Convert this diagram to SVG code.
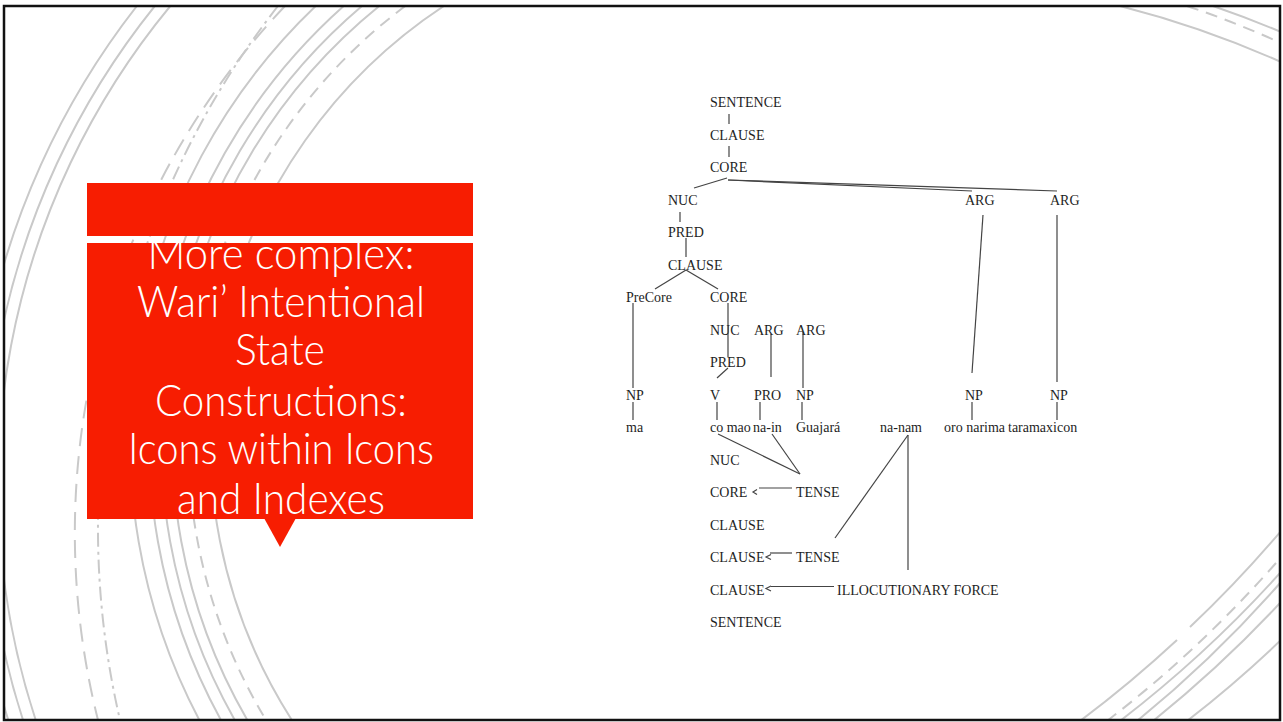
<svg xmlns="http://www.w3.org/2000/svg" width="1283" height="722" viewBox="0 0 1283 722">
<defs>
<style>
.arc{fill:none;stroke:#c9c9c9;stroke-width:2}
.dash{stroke-dasharray:12 8}
.dashl{stroke-dasharray:18 10}
.dd{stroke-dasharray:14 5 3 5}
.t{font-family:"Liberation Serif","Times New Roman",serif;font-size:14px;fill:#1e1e1e}
.ln{fill:none;stroke:#444;stroke-width:1.2}
.title{font-family:Lato,"Open Sans",sans-serif;font-weight:300;font-size:43px;fill:#fff;text-anchor:middle}
.red{fill:#F71D01}
</style>
<clipPath id="frameClip"><rect x="4" y="6" width="1276" height="714"/></clipPath>
<clipPath id="boxClip"><rect x="87" y="243" width="386" height="276"/></clipPath>
</defs>
<rect x="0" y="0" width="1283" height="722" fill="#fff"/>
<g id="background-arcs" clip-path="url(#frameClip)">
<path class="arc" d="M136.9,6 A778,778 0 0 0 8.3,720"/>
<path class="arc" d="M154.8,6 A764,764 0 0 0 23,720"/>
<path class="arc" d="M170.3,6 A752,752 0 0 0 35.7,720"/>
<path class="arc dd" d="M278,6 A847,847 0 0 0 120,720"/>
<path class="arc dashl" d="M285,6 A766,766 0 0 0 98,720"/>
<path class="arc" d="M315.7,6 A600,600 0 0 0 199.3,720"/>
<path class="arc" d="M343.7,6 A581,581 0 0 0 220.9,720"/>
<path class="arc" d="M362,6 A569,569 0 0 0 234.7,720"/>
<path class="arc" d="M379.3,6 A558,558 0 0 0 247.3,720"/>
<path class="arc dash" d="M405.3,6 A542,542 0 0 0 266,720"/>
<path class="arc" d="M443.9,6 A520,520 0 0 0 291.8,720"/>
<path class="arc" d="M1120,6 A1000,1000 0 0 1 1281,62"/>
<path class="arc dash" d="M1187,6 A1000,1000 0 0 1 1281,43"/>
<path class="arc" d="M1213,6 A1000,1000 0 0 1 1281,32"/>
<path class="arc" d="M1281,531 A1200,1200 0 0 1 1190,627"/>
<path class="arc" d="M1177,640 A1200,1200 0 0 1 1080,721"/>
<path class="arc dash" d="M1276,563 A1200,1200 0 0 1 1107,721"/>
<path class="arc" d="M1281,572 A1200,1200 0 0 1 1120,721"/>
<path class="arc" d="M1281,582 A1200,1200 0 0 1 1137,721"/>
<path class="arc" d="M1281,602 A1200,1200 0 0 1 1153,721"/>
<path class="arc" d="M1281,640 A1200,1200 0 0 1 1187,721"/>
</g>
<rect id="frame" x="4" y="6" width="1276" height="714" fill="none" stroke="#111" stroke-width="2.5"/>
<g id="title-box">
<rect class="red" x="87" y="183" width="386" height="53"/>
<rect class="red" x="87" y="243" width="386" height="276"/>
<polygon class="red" points="264,518 296,518 280,547"/>
<g clip-path="url(#boxClip)">
<text class="title" x="281" y="269" textLength="267" lengthAdjust="spacingAndGlyphs">More complex:</text>
<text class="title" x="281" y="317" textLength="288" lengthAdjust="spacingAndGlyphs">Wari’ Intentional</text>
<text class="title" x="280" y="365" textLength="90" lengthAdjust="spacingAndGlyphs">State</text>
<text class="title" x="281" y="416" textLength="252" lengthAdjust="spacingAndGlyphs">Constructions:</text>
<text class="title" x="281" y="464" textLength="306" lengthAdjust="spacingAndGlyphs">Icons within Icons</text>
<text class="title" x="281" y="514" textLength="208" lengthAdjust="spacingAndGlyphs">and Indexes</text>
</g>
</g>
<g id="connectors">
<line class="ln" x1="729" y1="114" x2="729" y2="124"/>
<line class="ln" x1="729" y1="146" x2="729" y2="157"/>
<line class="ln" x1="727" y1="178" x2="694" y2="188"/>
<line class="ln" x1="728" y1="180" x2="972" y2="191"/>
<line class="ln" x1="728" y1="180" x2="1057" y2="191"/>
<line class="ln" x1="680" y1="212" x2="680" y2="222"/>
<line class="ln" x1="686" y1="238" x2="686" y2="257"/>
<line class="ln" x1="686" y1="270" x2="655" y2="289"/>
<line class="ln" x1="686" y1="270" x2="718" y2="289"/>
<line class="ln" x1="633" y1="303" x2="633" y2="388"/>
<line class="ln" x1="728" y1="303" x2="728" y2="357"/>
<line class="ln" x1="728" y1="368" x2="717" y2="378"/>
<line class="ln" x1="771" y1="334" x2="771" y2="377"/>
<line class="ln" x1="803" y1="332" x2="803" y2="388"/>
<line class="ln" x1="983" y1="215" x2="972" y2="373"/>
<line class="ln" x1="1057" y1="215" x2="1057" y2="382"/>
<line class="ln" x1="633" y1="402" x2="633" y2="420"/>
<line class="ln" x1="717" y1="402" x2="717" y2="420"/>
<line class="ln" x1="760" y1="402" x2="760" y2="420"/>
<line class="ln" x1="802" y1="402" x2="802" y2="420"/>
<line class="ln" x1="972" y1="402" x2="972" y2="420"/>
<line class="ln" x1="1057" y1="402" x2="1057" y2="420"/>
<line class="ln" x1="718" y1="434" x2="800" y2="474"/>
<line class="ln" x1="772" y1="434" x2="800" y2="474"/>
<line class="ln" x1="759" y1="488" x2="792" y2="488"/>
<path class="ln" d="M757,489.5 L753,492 L757,494.5"/>
<line class="ln" x1="835" y1="538" x2="908" y2="435"/>
<line class="ln" x1="770" y1="553" x2="792" y2="553"/>
<path class="ln" d="M771,554.5 L766,557 L771,559.5"/>
<line class="ln" x1="908" y1="435" x2="908" y2="570"/>
<line class="ln" x1="771" y1="586.5" x2="834" y2="586.5"/>
<path class="ln" d="M771,586 L766,588.5 L771,591"/>
</g>
<g id="n-sentence-top"><text class="t" x="710" y="107">SENTENCE</text></g>
<g id="n-clause-1"><text class="t" x="710" y="139.5">CLAUSE</text></g>
<g id="n-core-1"><text class="t" x="710" y="172">CORE</text></g>
<g id="n-nuc-1"><text class="t" x="668" y="204.5">NUC</text></g>
<g id="n-arg-1"><text class="t" x="965" y="204.5">ARG</text></g>
<g id="n-arg-2"><text class="t" x="1050" y="204.5">ARG</text></g>
<g id="n-pred-1"><text class="t" x="668" y="237">PRED</text></g>
<g id="n-clause-2"><text class="t" x="668" y="269.5">CLAUSE</text></g>
<g id="n-precore"><text class="t" x="626" y="302">PreCore</text></g>
<g id="n-core-2"><text class="t" x="710" y="302">CORE</text></g>
<g id="n-nuc-2"><text class="t" x="710" y="334.5">NUC</text></g>
<g id="n-arg-3"><text class="t" x="754" y="334.5">ARG</text></g>
<g id="n-arg-4"><text class="t" x="796" y="334.5">ARG</text></g>
<g id="n-pred-2"><text class="t" x="710" y="367">PRED</text></g>
<g id="n-np-1"><text class="t" x="626" y="399.5">NP</text></g>
<g id="n-v"><text class="t" x="710" y="399.5">V</text></g>
<g id="n-pro"><text class="t" x="754" y="399.5">PRO</text></g>
<g id="n-np-2"><text class="t" x="796" y="399.5">NP</text></g>
<g id="n-np-3"><text class="t" x="965" y="399.5">NP</text></g>
<g id="n-np-4"><text class="t" x="1050" y="399.5">NP</text></g>
<g id="w-ma"><text class="t" x="626" y="432">ma</text></g>
<g id="w-comao"><text class="t" x="710" y="432">co mao</text></g>
<g id="w-nain"><text class="t" x="753" y="432">na-in</text></g>
<g id="w-guajara"><text class="t" x="796" y="432">Guajará</text></g>
<g id="w-nanam"><text class="t" x="880" y="432">na-nam</text></g>
<g id="w-oronarima"><text class="t" x="944" y="432">oro narima</text></g>
<g id="w-taramaxicon"><text class="t" x="1008" y="432">taramaxicon</text></g>
<g id="o-nuc"><text class="t" x="710" y="464.5">NUC</text></g>
<g id="o-core"><text class="t" x="710" y="497">CORE</text></g>
<g id="o-tense-1"><text class="t" x="796" y="497">TENSE</text></g>
<g id="o-clause-1"><text class="t" x="710" y="529.5">CLAUSE</text></g>
<g id="o-clause-2"><text class="t" x="710" y="562">CLAUSE</text></g>
<g id="o-tense-2"><text class="t" x="796" y="562">TENSE</text></g>
<g id="o-clause-3"><text class="t" x="710" y="594.5">CLAUSE</text></g>
<g id="o-illoc"><text class="t" x="837" y="594.5">ILLOCUTIONARY FORCE</text></g>
<g id="o-sentence"><text class="t" x="710" y="627">SENTENCE</text></g>
</svg>
